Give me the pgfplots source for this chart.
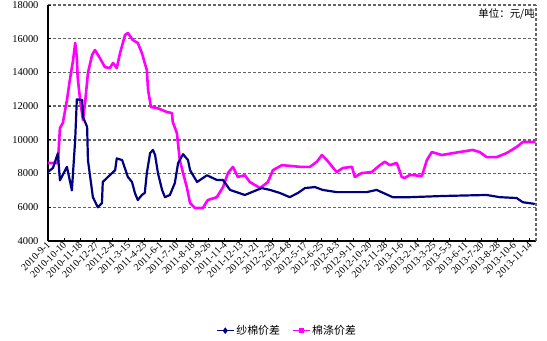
\documentclass[border=0pt]{standalone}
\usepackage{pgfplots}
\pgfplotsset{compat=1.18}
\usepackage{fontspec}
\setmainfont{Liberation Serif}
\newfontfamily\cjk{Noto Sans CJK SC}
\definecolor{navyb}{RGB}{0,0,128}
\definecolor{mag}{RGB}{255,0,255}
\definecolor{gridg}{RGB}{100,100,100}
\begin{document}
\begin{tikzpicture}
\begin{axis}[
  at={(0,0)}, anchor=south west, scale only axis,
  width=488bp, height=236bp,
  xmin=0, xmax=1185, ymin=4000, ymax=18000,
  axis lines*=left,
  axis line style={black, line width=1.2bp, -},
  tick style={black, line width=0.8bp},
  tick align=inside, major tick length=3bp,
  ytick={4000,6000,...,18000},
  scaled y ticks=false,
  xtick={0,39,...,1170},
  xticklabels={2010-9-1,2010-10-10,2010-11-18,2010-12-27,2011-2-4,2011-3-15,2011-4-23,2011-6-1,2011-7-10,2011-8-18,2011-9-26,2011-11-4,2011-12-13,2012-1-21,2012-2-29,2012-4-8,2012-5-17,2012-6-25,2012-8-3,2012-9-11,2012-10-20,2012-11-28,2013-1-6,2013-2-14,2013-3-25,2013-5-3,2013-6-11,2013-7-20,2013-8-28,2013-10-6,2013-11-14},
  x tick label style={rotate=45, anchor=east, font=\fontsize{10}{10}\selectfont, inner sep=1bp, yshift=-2bp},
  y tick label style={font=\fontsize{10.5}{10.5}\selectfont, xshift=-6bp},
  /pgf/number format/assume math mode=true,
  /pgf/number format/1000 sep={},
  ymajorgrids=true,
  major grid style={draw=gridg, line width=1.3bp, dash pattern=on 3bp off 2bp},
  extra x ticks={1185}, extra x tick labels={},
  extra x tick style={xmajorgrids=true, ymajorgrids=false, major tick length=0pt},
  legend style={at={(0.49,-0.38)}, anchor=center, draw=none, fill=none,
    legend columns=2, font=\cjk\fontsize{11}{11}\selectfont,
    /tikz/every even column/.style={column sep=10bp}},
  legend cell align=left,
]
\addplot[mag, line width=2.6bp, line join=round, forget plot] coordinates {
(0,8630)(24,8630)(29,10700)(36,11000)(46,12360)(53,13550)(61,14740)(66,15750)(70,14900)(72,13730)(78,12360)(85,11180)(90,12190)(97,13970)(107,15030)(114,15330)(126,14850)(138,14320)(150,14260)(158,14560)(167,14260)(175,15150)(187,16220)(194,16340)(206,15920)(218,15750)(228,15150)(235,14560)(240,14140)(243,12960)(250,11950)(265,11890)(289,11650)(301,11590)(303,11060)(313,10400)(320,8800)(328,8030)(337,7200)(345,6250)(357,5960)(376,5960)(388,6430)(410,6600)(425,7200)(437,8030)(449,8400)(461,7800)(478,7900)(490,7500)(515,7140)(534,7500)(546,8200)(568,8500)(612,8400)(636,8400)(653,8700)(665,9100)(677,8800)(701,8090)(716,8330)(738,8400)(745,7800)(762,8030)(786,8090)(806,8500)(818,8700)(830,8500)(847,8630)(859,7800)(866,7740)(879,7920)(908,7860)(920,8800)(932,9280)(956,9100)(1000,9280)(1031,9400)(1048,9280)(1065,8980)(1090,8980)(1114,9220)(1138,9580)(1153,9870)(1184,9870)
};
\addplot[navyb, line width=2.2bp, line join=round, forget plot] coordinates {
(0,8100)(12,8330)(24,9200)(29,7600)(46,8400)(58,7000)(66,10000)(70,12400)(83,12360)(85,11350)(95,10770)(97,8800)(109,6600)(121,6000)(131,6250)(133,7500)(143,7740)(163,8200)(167,8900)(180,8800)(194,7800)(204,7500)(211,6850)(218,6430)(228,6730)(235,6850)(240,8030)(248,9220)(255,9400)(260,9100)(267,8030)(277,7030)(284,6600)(296,6730)(308,7440)(316,8630)(328,9150)(340,8800)(345,8200)(362,7500)(386,7900)(410,7620)(425,7620)(442,7030)(478,6730)(495,6900)(519,7140)(539,7030)(563,6850)(587,6600)(607,6850)(624,7140)(648,7200)(667,7030)(701,6900)(740,6900)(774,6900)(798,7030)(837,6600)(879,6600)(959,6670)(1065,6730)(1097,6600)(1138,6550)(1153,6300)(1182,6200)
};
\addlegendimage{navyb, line width=1bp, mark=diamond*, mark size=2.5bp}
\addlegendentry{纱棉价差}
\addlegendimage{mag, line width=1bp, mark=square*, mark size=2bp}
\addlegendentry{棉涤价差}
\node[anchor=east, inner sep=1bp, font=\cjk\fontsize{10.5}{10.5}\selectfont] at (rel axis cs:1,0.962) {单位：元/吨};
\end{axis}
\pgfresetboundingbox
\path (-48bp,-100bp) rectangle (499bp,241bp);
\end{tikzpicture}
\end{document}
